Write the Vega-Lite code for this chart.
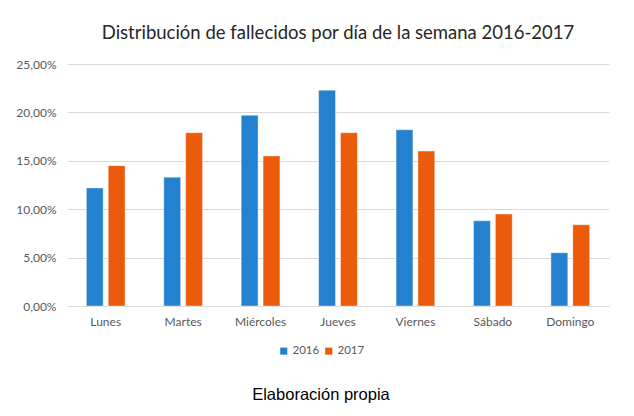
{
  "$schema": "https://vega.github.io/schema/vega-lite/v6.json",
  "autosize": "none",
  "width": 542,
  "height": 242,
  "padding": {"left": 67, "top": 64, "right": 25, "bottom": 110},
  "background": "white",
  "config": {
    "locale": {"number": {"decimal": ",", "thousands": ".", "grouping": [3], "currency": ["", " €"]}},
    "view": {"stroke": null},
    "font": "Lato"
  },
  "title": {
    "text": "Distribución de fallecidos por día de la semana 2016-2017",
    "font": "Lato",
    "fontSize": 18.5,
    "fontWeight": "normal",
    "color": "#262626",
    "offset": 16
  },
  "data": {
    "values": [
      {"dia": "Lunes", "anio": "2016", "valor": 0.122},
      {"dia": "Lunes", "anio": "2017", "valor": 0.145},
      {"dia": "Martes", "anio": "2016", "valor": 0.133},
      {"dia": "Martes", "anio": "2017", "valor": 0.179},
      {"dia": "Miércoles", "anio": "2016", "valor": 0.197},
      {"dia": "Miércoles", "anio": "2017", "valor": 0.155},
      {"dia": "Jueves", "anio": "2016", "valor": 0.223},
      {"dia": "Jueves", "anio": "2017", "valor": 0.179},
      {"dia": "Viernes", "anio": "2016", "valor": 0.182},
      {"dia": "Viernes", "anio": "2017", "valor": 0.160},
      {"dia": "Sábado", "anio": "2016", "valor": 0.088},
      {"dia": "Sábado", "anio": "2017", "valor": 0.095},
      {"dia": "Domingo", "anio": "2016", "valor": 0.055},
      {"dia": "Domingo", "anio": "2017", "valor": 0.084}
    ]
  },
  "mark": {"type": "bar", "stroke": "white", "strokeOpacity": 0.4, "strokeWidth": 1},
  "encoding": {
    "x": {
      "field": "dia",
      "type": "nominal",
      "sort": ["Lunes", "Martes", "Miércoles", "Jueves", "Viernes", "Sábado", "Domingo"],
      "scale": {"paddingInner": 0.5, "paddingOuter": 0.25},
      "axis": {
        "title": null,
        "labelAngle": 0,
        "labelFont": "Lato",
        "labelFontSize": 12,
        "labelColor": "#595959",
        "labelPadding": 10,
        "ticks": false,
        "domain": false
      }
    },
    "xOffset": {
      "field": "anio",
      "type": "nominal",
      "scale": {"paddingInner": 0.23, "paddingOuter": 0}
    },
    "y": {
      "field": "valor",
      "type": "quantitative",
      "scale": {"domain": [0, 0.25], "nice": false},
      "axis": {
        "title": null,
        "values": [0, 0.05, 0.1, 0.15, 0.2, 0.25],
        "format": ".2%",
        "labelFont": "Lato",
        "labelFontSize": 12,
        "labelColor": "#595959",
        "labelPadding": 11,
        "ticks": false,
        "domain": false,
        "gridColor": "#D9D9D9",
        "gridWidth": 1
      }
    },
    "color": {
      "field": "anio",
      "type": "nominal",
      "scale": {"domain": ["2016", "2017"], "range": ["#2381CF", "#EB5B0B"]},
      "legend": {
        "title": "Elaboración propia",
        "orient": "none",
        "legendX": 185,
        "legendY": 281,
        "direction": "horizontal",
        "titleOrient": "bottom",
        "titleAnchor": "middle",
        "titleFont": "Liberation Sans",
        "titleFontSize": 16.5,
        "titleFontWeight": "normal",
        "titleColor": "#000000",
        "titlePadding": 30,
        "symbolType": "square",
        "symbolSize": 50,
        "symbolStrokeWidth": 0,
        "labelFont": "Lato",
        "labelFontSize": 11.5,
        "labelColor": "#595959",
        "labelOffset": 3,
        "columnPadding": 3
      }
    }
  }
}
